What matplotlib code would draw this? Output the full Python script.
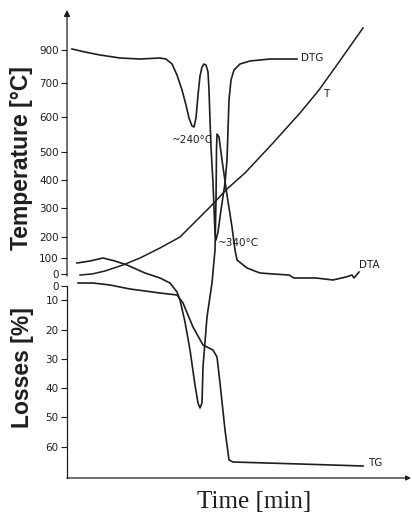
import matplotlib
matplotlib.use("Agg")
import matplotlib.pyplot as plt

# curves (x = time position, y = vertical position on the sheet,
# both in the picture's own units, y grows downwards)
dtg_x = [72, 85, 100, 120, 140, 160, 166, 172, 177, 182, 186, 189, 192, 194,
         196, 198, 200, 202, 204, 206, 208, 209, 210, 211, 213, 215, 216, 218,
         221, 225, 227, 228, 229, 231, 234, 240, 250, 270, 297]
dtg_y = [49, 52, 55, 58, 59, 58, 59, 64, 75, 90, 105, 118, 126, 127,
         118, 95, 76, 67, 64, 65, 72, 90, 120, 147, 183, 233, 240, 232,
         210, 183, 160, 130, 100, 80, 70, 64, 61, 59, 59]

t_x = [80, 92, 105, 123, 140, 160, 180, 195, 200, 210, 227, 245, 273, 300,
       319, 339, 363]
t_y = [275, 274, 271, 265, 258, 248, 237, 222, 217, 207, 189, 173, 143, 113,
       90, 62, 28]

dta_x = [77, 90, 103, 115, 127, 145, 160, 170, 177, 180, 185, 190, 195, 198,
         200, 202, 203, 207, 212, 215, 216, 216.5, 217, 219, 222, 227,
         232, 235, 237, 247, 260, 273, 289, 294, 316, 333, 346, 352, 354, 359]
dta_y = [263, 261, 258, 261, 265, 273, 278, 283, 292, 300, 322, 350, 385, 403,
         408, 403, 367, 317, 283, 250, 200, 150, 134, 137, 160, 195,
         227, 250, 260, 268, 273, 274, 275, 278, 278, 280, 277, 275, 278, 272]

tg_x = [78, 93, 110, 130, 160, 177, 183, 193, 203, 213, 217, 220, 225, 229,
        233, 300, 363]
tg_y = [283, 283, 285, 289, 293, 295, 303, 327, 345, 350, 357, 383, 430, 460,
        462, 464, 466]

temp_tick_pos = [50, 83, 117, 152, 180, 208, 237, 258, 274]
temp_tick_lbl = ["900", "700", "600", "500", "400", "300", "200", "100", "0"]
loss_tick_pos = [286, 300, 330, 359, 388, 417, 447]
loss_tick_lbl = ["0", "10", "20", "30", "40", "50", "60"]

ink = "#1e1e1e"

fig = plt.figure(figsize=(4.12, 5.16), dpi=100)
ax = fig.add_axes([67 / 412, 38 / 516, 345 / 412, 468 / 516])

ax.plot(dtg_x, dtg_y, c=ink, lw=1.2)
ax.plot(t_x, t_y, c=ink, lw=1.1)
ax.plot(dta_x, dta_y, c=ink, lw=1.2)
ax.plot(tg_x, tg_y, c=ink, lw=1.2)

ax.set_xlim(67, 412)
ax.set_ylim(478, 10)

# axes lines
for s in ["top", "right", "bottom"]:
    ax.spines[s].set_visible(False)
ax.spines["left"].set_bounds(286, 478)
ax.spines["left"].set_color(ink)
ax.spines["left"].set_linewidth(0.9)
ax.annotate("", xy=(67, 10), xytext=(67, 276),
            arrowprops=dict(arrowstyle="-|>", lw=0.9, color=ink,
                            mutation_scale=9, shrinkA=0, shrinkB=0),
            annotation_clip=False)
ax.annotate("", xy=(411, 478), xytext=(67, 478),
            arrowprops=dict(arrowstyle="-|>", lw=0.9, color=ink,
                            mutation_scale=7, shrinkA=0, shrinkB=0),
            annotation_clip=False)

ax.set_xticks([])
ax.set_yticks(temp_tick_pos + loss_tick_pos)
ax.set_yticklabels(temp_tick_lbl + loss_tick_lbl, fontsize=7.5,
                   family="DejaVu Sans", color=ink)
ax.tick_params(axis="y", direction="out", length=4, width=0.8,
               colors=ink, pad=2)

# curve names
ax.text(301, 58, "DTG", fontsize=7.5, va="center", color=ink)
ax.text(323, 94, "T", fontsize=7.5, va="center", color=ink)
ax.text(359, 265, "DTA", fontsize=7.5, va="center", color=ink)
ax.text(368, 463, "TG", fontsize=7.5, va="center", color=ink)
ax.text(172, 140, "~240°C", fontsize=7.5, va="center", color=ink)
ax.text(218, 243, "~340°C", fontsize=7.5, va="center", color=ink)

# axis titles
fig.text(22 / 412, 1 - 158 / 516, "Temperature [°C]", rotation=90,
         ha="center", va="center", fontsize=16.5, fontweight="bold",
         family="Liberation Sans", color=ink)
fig.text(23 / 412, 1 - 368 / 516, "Losses [%]", rotation=90,
         ha="center", va="center", fontsize=16.5, fontweight="bold",
         family="Liberation Sans", color=ink)
fig.text(254 / 412, 1 - 508 / 516, "Time [min]", ha="center", va="baseline",
         fontsize=18, family="Liberation Serif", color=ink)

fig.savefig("out.png", dpi=100)
